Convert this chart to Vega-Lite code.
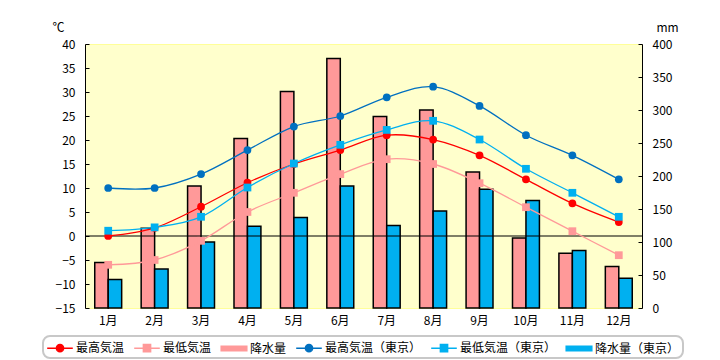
{
  "$schema": "https://vega.github.io/schema/vega-lite/v6.json",
  "width": 557,
  "height": 264,
  "autosize": {"type": "none"},
  "padding": {"left": 85, "top": 44, "right": 78, "bottom": 52},
  "background": "white",
  "config": {
    "font": "Noto Sans CJK JP",
    "view": {"fill": "#FFFFCC", "stroke": "#FFFF99", "strokeWidth": 1},
    "axis": {"labelFont": "Noto Sans CJK JP", "labelFontSize": 12, "labelColor": "black", "grid": false, "titleFont": "Noto Sans CJK JP", "titleColor": "black"},
    "legend": {"strokeColor": "#C8C8C8", "strokeWidth": 2, "cornerRadius": 7, "padding": 3, "fillColor": "white"}
  },
  "data": {
    "values": [
      {"m": "1月", "最高気温": 0.0, "最低気温": -6.0, "降水量": 69, "最高気温（東京）": 10.0, "最低気温（東京）": 1.1, "降水量（東京）": 43},
      {"m": "2月", "最高気温": 1.7, "最低気温": -5.0, "降水量": 121, "最高気温（東京）": 10.0, "最低気温（東京）": 1.8, "降水量（東京）": 59},
      {"m": "3月", "最高気温": 6.1, "最低気温": -1.0, "降水量": 185, "最高気温（東京）": 12.9, "最低気温（東京）": 4.0, "降水量（東京）": 100},
      {"m": "4月", "最高気温": 11.1, "最低気温": 5.0, "降水量": 257, "最高気温（東京）": 17.9, "最低気温（東京）": 10.1, "降水量（東京）": 124},
      {"m": "5月", "最高気温": 15.0, "最低気温": 9.0, "降水量": 328, "最高気温（東京）": 22.8, "最低気温（東京）": 15.1, "降水量（東京）": 137},
      {"m": "6月", "最高気温": 17.9, "最低気温": 12.9, "降水量": 378, "最高気温（東京）": 25.0, "最低気温（東京）": 19.0, "降水量（東京）": 185},
      {"m": "7月", "最高気温": 21.0, "最低気温": 16.0, "降水量": 290, "最高気温（東京）": 28.9, "最低気温（東京）": 22.1, "降水量（東京）": 125},
      {"m": "8月", "最高気温": 20.1, "最低気温": 15.0, "降水量": 300, "最高気温（東京）": 31.1, "最低気温（東京）": 24.0, "降水量（東京）": 147},
      {"m": "9月", "最高気温": 16.8, "最低気温": 11.0, "降水量": 206, "最高気温（東京）": 27.1, "最低気温（東京）": 20.1, "降水量（東京）": 180},
      {"m": "10月", "最高気温": 11.8, "最低気温": 6.0, "降水量": 106, "最高気温（東京）": 21.0, "最低気温（東京）": 14.0, "降水量（東京）": 163},
      {"m": "11月", "最高気温": 6.8, "最低気温": 1.0, "降水量": 83, "最高気温（東京）": 16.8, "最低気温（東京）": 9.0, "降水量（東京）": 87},
      {"m": "12月", "最高気温": 2.9, "最低気温": -4.0, "降水量": 63, "最高気温（東京）": 11.8, "最低気温（東京）": 4.0, "降水量（東京）": 45}
    ]
  },
  "layer": [
    {
      "transform": [{"fold": ["降水量", "降水量（東京）"], "as": ["s", "v"]}],
      "mark": {"type": "bar", "stroke": "black", "strokeWidth": 1.5, "opacity": 1},
      "encoding": {
        "x": {
          "field": "m", "type": "ordinal",
          "sort": ["1月","2月","3月","4月","5月","6月","7月","8月","9月","10月","11月","12月"],
          "title": null,
          "scale": {"paddingInner": 0.42, "paddingOuter": 0.21},
          "axis": {"orient": "bottom", "domain": false, "ticks": false, "labelPadding": 7, "labelAngle": 0, "labelFontSize": 12}
        },
        "xOffset": {"field": "s", "type": "nominal", "sort": ["降水量", "降水量（東京）"], "scale": {"paddingInner": 0, "paddingOuter": 0}},
        "y": {
          "field": "v", "type": "quantitative",
          "scale": {"domain": [0, 400], "nice": false},
          "axis": {"orient": "right", "values": [0,50,100,150,200,250,300,350,400], "tickSize": -4, "tickColor": "black", "domainColor": "black", "labelPadding": 14, "labelAlign": "left",
                   "title": "mm", "titleAngle": 0, "titleX": 25, "titleY": -17, "titleAlign": "center", "titleBaseline": "middle", "titleFontWeight": "normal", "titleFontSize": 12}
        },
        "color": {
          "field": "s", "type": "nominal",
          "scale": {"domain": ["最高気温", "最低気温", "降水量", "最高気温（東京）", "最低気温（東京）", "降水量（東京）"],
                    "range": ["#FF0000", "#FF9999", "#FF9999", "#0070C0", "#00B0F0", "#00B0F0"]},
          "legend": {
            "orient": "none", "legendX": -42, "legendY": 292, "direction": "horizontal", "columns": 6, "title": null,
            "symbolSize": 256, "labelFontSize": 12, "labelFont": "Noto Sans CJK JP", "labelColor": "black",
            "columnPadding": 6, "labelOffset": 7, "symbolOffset": 5, "symbolStrokeWidth": 1.5,
            "symbolType": {"expr": "(datum.value==='降水量'||datum.value==='降水量（東京）') ? 'M-1.6,-0.28H1.6V0.28H-1.6Z' : (datum.value==='最高気温'||datum.value==='最高気温（東京）') ? 'M-1.6,0H1.6M-0.45,0A0.45,0.45,0,1,1,0.45,0A0.45,0.45,0,1,1,-0.45,0Z' : 'M-1.6,0H1.6M-0.45,-0.45H0.45V0.45H-0.45Z'"},
            "symbolStrokeColor": {"expr": "(datum.value==='降水量'||datum.value==='降水量（東京）') ? 'black' : datum.value==='最高気温' ? '#FF0000' : datum.value==='最高気温（東京）' ? '#0070C0' : datum.value==='最低気温' ? '#FF9999' : '#00B0F0'"}
          }
        }
      }
    },
    {
      "encoding": {
        "y": {
          "field": "v", "type": "quantitative",
          "scale": {"domain": [-15, 40], "nice": false, "zero": false},
          "axis": {"orient": "left", "values": [-15,-10,-5,0,5,10,15,20,25,30,35,40], "tickSize": -4, "tickColor": "black", "domainColor": "black", "labelPadding": 14,
                   "title": "℃", "titleAngle": 0, "titleX": -27, "titleY": -17, "titleAlign": "center", "titleBaseline": "middle", "titleFontWeight": "normal", "titleFontSize": 12}
        }
      },
      "layer": [
        {
          "data": {"values": [{"v": 0}]},
          "mark": {"type": "rule", "color": "black", "strokeWidth": 1.2},
          "encoding": {}
        },
        {
          "transform": [{"fold": ["最高気温", "最低気温", "最高気温（東京）", "最低気温（東京）"], "as": ["s", "v"]}],
          "mark": {"type": "line", "interpolate": "cardinal", "strokeWidth": 1.3},
          "encoding": {
            "x": {"field": "m", "type": "ordinal", "sort": ["1月","2月","3月","4月","5月","6月","7月","8月","9月","10月","11月","12月"], "title": null},
            "color": {"field": "s", "type": "nominal", "legend": null}
          }
        },
        {
          "transform": [{"fold": ["最高気温", "最低気温", "最高気温（東京）", "最低気温（東京）"], "as": ["s", "v"]}],
          "mark": {"type": "point", "filled": true, "opacity": 1, "size": 60},
          "encoding": {
            "x": {"field": "m", "type": "ordinal", "sort": ["1月","2月","3月","4月","5月","6月","7月","8月","9月","10月","11月","12月"], "title": null},
            "color": {"field": "s", "type": "nominal", "legend": null},
            "shape": {"field": "s", "type": "nominal", "scale": {"domain": ["最高気温", "最低気温", "最高気温（東京）", "最低気温（東京）"], "range": ["circle", "square", "circle", "square"]}, "legend": null}
          }
        }
      ]
    }
  ],
  "resolve": {"scale": {"y": "independent"}}
}
